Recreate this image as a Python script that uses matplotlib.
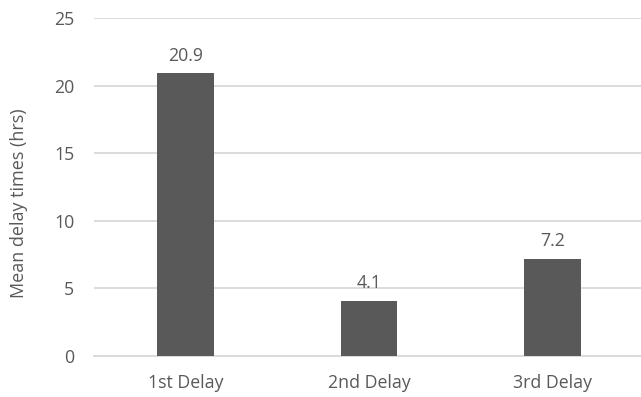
import matplotlib.pyplot as plt

categories = ['1st Delay', '2nd Delay', '3rd Delay']
mean_delay = [20.9, 4.1, 7.2]
yticks = [0, 5, 10, 15, 20, 25]

bar_color = '#595959'
text_color = '#595959'
grid_color = '#d9d9d9'

plt.rcParams['font.family'] = ['Open Sans', 'DejaVu Sans']

fig = plt.figure(figsize=(6.41, 3.97), dpi=100)
ax = fig.add_axes([93.75 / 641, 41 / 397, 550.5 / 641, 338 / 397])

x = range(len(categories))
bars = ax.bar(x, mean_delay, width=0.31, color=bar_color, zorder=3)

# value labels above each bar
for rect, v in zip(bars, mean_delay):
    ax.annotate(f'{v}', (rect.get_x() + rect.get_width() / 2, v),
                xytext=(0, 6), textcoords='offset points',
                ha='center', va='bottom', fontsize=12.8, color=text_color)

ax.set_xlim(-0.5, 2.5)
ax.set_ylim(0, 25)
ax.set_yticks(yticks)
ax.set_xticks(list(x))
ax.set_xticklabels(categories)
ax.yaxis.grid(True, color=grid_color, linewidth=1.3, zorder=0)
ax.set_axisbelow(True)

for s in ['top', 'right', 'left']:
    ax.spines[s].set_visible(False)
ax.spines['bottom'].set_color(grid_color)
ax.spines['bottom'].set_linewidth(1.3)

ax.tick_params(axis='both', length=0, labelsize=12.8, labelcolor=text_color)
ax.tick_params(axis='y', pad=14)
ax.tick_params(axis='x', pad=13)

ax.set_ylabel('Mean delay times (hrs)', fontsize=13, color=text_color)
ax.yaxis.set_label_coords(-0.12, 0.451)

fig.savefig('out.png', dpi=100)
